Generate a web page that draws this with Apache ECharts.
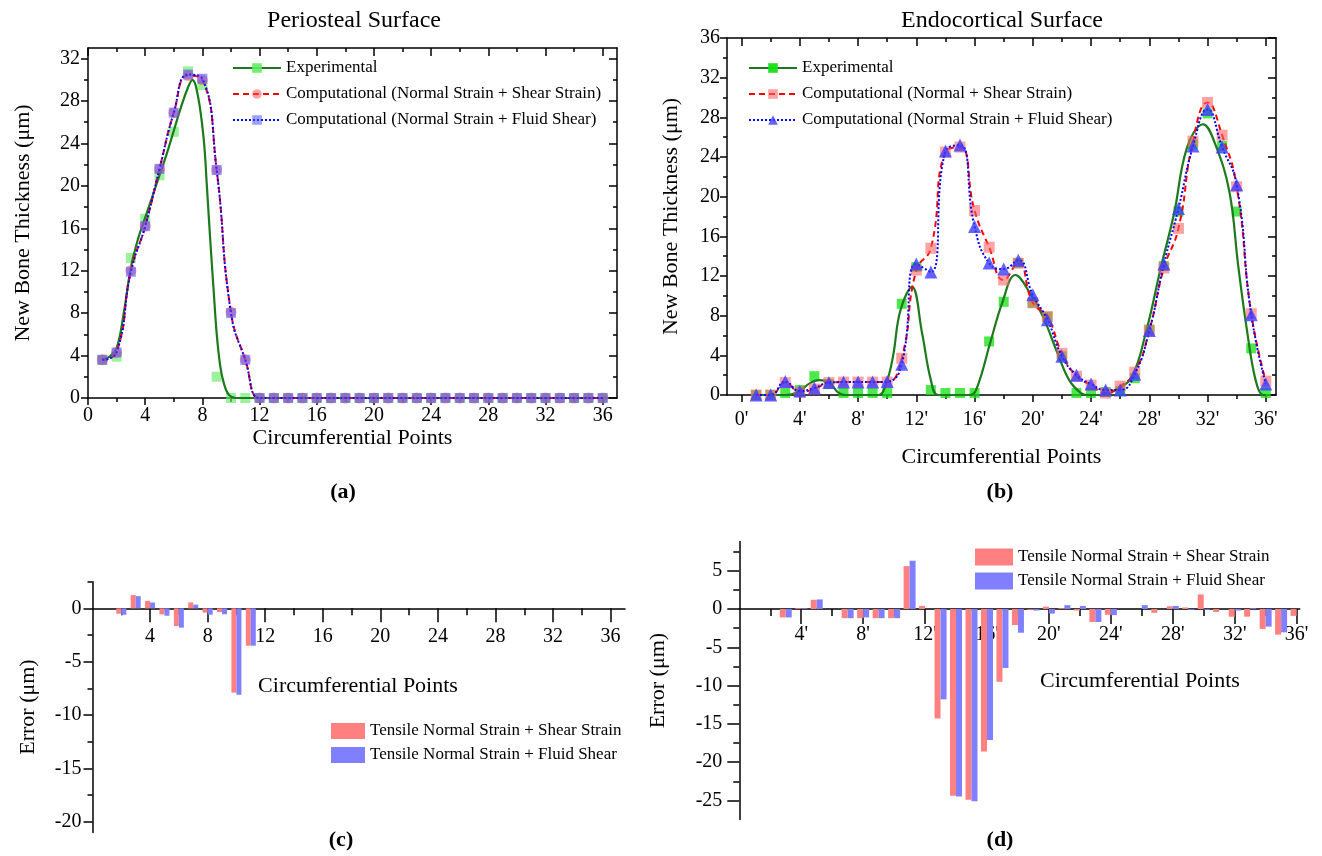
<!DOCTYPE html>
<html><head><meta charset="utf-8">
<script src="https://cdn.jsdelivr.net/npm/echarts@6/dist/echarts.min.js"></script>
<style>html,body{margin:0;padding:0;background:#fff}#c{width:1322px;height:856px}</style>
</head><body><div id="c"></div>
<script>
const FONT = 'Liberation Serif';
// ---------------- data ----------------
const pts = [1,2,3,4,5,6,7,8,9,10,11,12,13,14,15,16,17,18,19,20,21,22,23,24,25,26,27,28,29,30,31,32,33,34,35,36];

// (a) Periosteal surface
const expA   = [3.6,3.9,13.2,16.9,21.0,25.1,30.8,29.5,2.0,0,0,0,0,0,0,0,0,0,0,0,0,0,0,0,0,0,0,0,0,0,0,0,0,0,0,0];
const shearA = [3.6,4.3,12.0,16.2,21.6,26.9,30.4,30.0,21.5,8.1,3.6,0,0,0,0,0,0,0,0,0,0,0,0,0,0,0,0,0,0,0,0,0,0,0,0,0];
const fluidA = [3.6,4.3,11.9,16.2,21.6,26.9,30.5,30.1,21.5,8.0,3.6,0,0,0,0,0,0,0,0,0,0,0,0,0,0,0,0,0,0,0,0,0,0,0,0,0];
const expFitA = [[1,3.6],[1.5,3.9],[2,4.7],[2.5,8.0],[3,12.3],[3.5,15.0],[4,17.0],[4.5,19.0],[5,21.0],[5.5,23.0],[6,25.2],[6.5,27.4],[7,29.3],[7.3,30.0],[7.7,28.4],[8.1,24.3],[8.3,20.3],[8.55,14.9],[8.8,9.9],[9.0,6.1],[9.25,3.0],[9.5,1.4],[9.85,0.3],[10.4,0],[36,0]];

// (b) Endocortical surface
const expB   = [0,0,0.2,0.5,1.9,1.1,0.2,0.2,0.2,0.2,9.2,12.9,0.5,0.2,0.2,0.2,5.4,9.4,13.3,9.3,7.9,3.9,0.2,0.2,0.3,0.4,1.7,6.6,13.0,18.5,25.3,28.4,25.1,18.5,4.7,0.2];
const shearB = [0,0,1.25,0.3,0.6,1.25,1.3,1.3,1.3,1.3,3.7,12.6,14.8,24.5,25.0,18.6,14.9,11.6,13.3,9.3,7.9,4.2,1.9,1.0,0.2,0.9,2.3,6.5,12.8,16.8,25.6,29.5,26.2,21.0,8.2,1.4];
const fluidB = [0,0,1.35,0.4,0.7,1.25,1.3,1.3,1.3,1.35,3.1,13.2,12.4,24.6,25.2,17.0,13.3,12.7,13.6,10.1,7.6,3.9,2.0,1.1,0.5,0.5,2.1,6.5,13.2,18.8,25.1,28.8,25.0,21.2,8.1,1.1];
const expFitB = [[1,0],[3,0],[3.5,0.1],[4,0.4],[4.7,1.2],[5.3,1.5],[5.8,1.4],[6.2,1.0],[6.6,0.3],[7.1,0],[9.4,0],[9.9,1.0],[10.4,3.9],[10.9,8.5],[11.7,10.9],[12.4,6.2],[13.0,1.5],[13.5,0],[15.6,0],[16.1,0.5],[17.1,5.4],[17.9,9.3],[18.8,12.1],[19.8,10.3],[20.7,7.9],[21.7,4.2],[22.5,1.5],[23.3,0.2],[23.8,0],[24.8,0],[25.8,0.6],[26.8,1.8],[27.8,6.5],[28.8,12.9],[29.7,18.3],[30.6,25.0],[31.7,27.3],[32.5,25.4],[33.5,20.5],[34.1,13.1],[34.7,6.6],[35.3,1.5],[35.8,0],[36,0]];

// (c) error, periosteal
const errShearC = [0,-0.5,1.25,0.7,-0.56,-1.66,0.56,-0.4,-0.35,-7.9,-3.5,0,0,0,0,0,0,0,0,0,0,0,0,0,0,0,0,0,0,0,0,0,0,0,0,0];
const errFluidC = [0,-0.6,1.15,0.55,-0.69,-1.81,0.35,-0.6,-0.55,-8.1,-3.5,0,0,0,0,0,0,0,0,0,0,0,0,0,0,0,0,0,0,0,0,0,0,0,0,0];

// (d) error, endocortical
const errShearD = [0,0,-1.1,0.1,1.2,0,-1.2,-1.2,-1.2,-1.2,5.6,0.4,-14.3,-24.4,-24.9,-18.6,-9.5,-2.1,-0.1,0.3,0.1,-0.2,-1.7,-0.75,0,0,-0.5,0.35,0.2,1.9,-0.4,-1.0,-1.0,-2.6,-3.35,-0.9];
const errFluidD = [0,0,-1.1,0.1,1.25,0,-1.2,-1.1,-1.2,-1.2,6.3,0,-11.8,-24.5,-25.1,-17.1,-7.7,-3.1,-0.2,-0.6,0.5,0.4,-1.7,-0.8,0,0.5,0,0.4,-0.1,-0.1,0,-0.2,0.1,-2.3,-3.05,0];

// tick values
const xMajorAB = [0,4,8,12,16,20,24,28,32,36];
const xMinorAB = [2,6,10,14,18,22,26,30,34];
const yMajorA = [0,4,8,12,16,20,24,28,32];
const yMinorA = [2,6,10,14,18,22,26,30];
const yMajorB = [0,4,8,12,16,20,24,28,32,36];
const yMinorB = [2,6,10,14,18,22,26,30,34];
const xMajorCD = [4,8,12,16,20,24,28,32,36];
const xMinorCD = [2,6,10,14,18,22,26,30,34];
const yMajorC = [0,-5,-10,-15,-20];
const yMinorC = [2.5,-2.5,-7.5,-12.5,-17.5];
const yMajorD = [5,0,-5,-10,-15,-20,-25];
const yMinorD = [7.5,2.5,-2.5,-7.5,-12.5,-17.5,-22.5];

const names = {
  A_exp:'Experimental',
  A_shear:'Computational (Normal Strain + Shear Strain)',
  A_fluid:'Computational (Normal Strain + Fluid Shear)',
  B_exp:'Experimental',
  B_shear:'Computational (Normal + Shear Strain)',
  B_fluid:'Computational (Normal Strain + Fluid Shear)',
  C_shear:'Tensile Normal Strain + Shear Strain',
  C_fluid:'Tensile Normal Strain + Fluid Shear',
  D_shear:'Tensile Normal Strain + Shear Strain',
  D_fluid:'Tensile Normal Strain + Fluid Shear'
};
function pairs(arr){ return pts.map((x,i)=>[x, arr[i]]); }

// ---------------- layout ----------------
const G = {
  A:{left:88, top:48, width:529, height:350},
  B:{left:727, top:38, width:549, height:357},
  C:{left:92.5, top:581.7, width:532.5, height:250.7},
  Cz:{left:92.5, top:581.7, width:532.5, height:26.6},
  D:{left:739.3, top:541.6, width:560.4, height:278},
  Dz:{left:739.3, top:541.6, width:560.4, height:67.4}
};
const grid = [G.A, G.A, G.B, G.B, G.C, G.C, G.Cz, G.Cz, G.D, G.D, G.Dz, G.Dz].map(g => Object.assign({containLabel:false}, g));

const LS = {color:'#000', width:1.5};
function ax(g, min, max, o){
  const a = {
    type:'value', gridIndex:g, min:min, max:max, position:o.pos, show:o.show!==false,
    axisLine:{show:o.line!==false, onZero:false, lineStyle:LS},
    axisTick:{show:!!o.ticks, inside:!!o.inside, length:o.len||5, customValues:o.ticks||[], lineStyle:LS},
    axisLabel:{show:!!o.labels, customValues:o.labels||[], color:'#000', fontFamily:FONT, fontSize:20, margin:o.margin||8},
    splitLine:{show:false}, minorTick:{show:false}, silent:true
  };
  if (o.fmt) a.axisLabel.formatter = o.fmt;
  if (o.name){
    a.name = o.name; a.nameLocation='middle'; a.nameGap=o.nameGap;
    a.nameTextStyle = {fontFamily:FONT, fontSize:22, color:'#000'};
  }
  return a;
}
const prime = v => v + "'";

const xAxis = [
  // 0-3: A
  ax(0,0,37,{pos:'bottom', len:7, ticks:xMajorAB, labels:xMajorAB, margin:8, name:'Circumferential Points', nameGap:27}),
  ax(0,0,37,{pos:'top', len:8, inside:true, ticks:xMajorAB}),
  ax(1,0,37,{pos:'bottom', line:false, len:4, ticks:xMinorAB}),
  ax(1,0,37,{pos:'top', line:false, len:4, inside:true, ticks:xMinorAB}),
  // 4-7: B
  ax(2,-1,36.7,{pos:'bottom', len:7, ticks:xMajorAB, labels:xMajorAB, fmt:prime, margin:15, name:'Circumferential Points', nameGap:51}),
  ax(2,-1,36.7,{pos:'top', len:8, inside:true, ticks:xMajorAB}),
  ax(3,-1,36.7,{pos:'bottom', line:false, len:4, ticks:xMinorAB}),
  ax(3,-1,36.7,{pos:'top', line:false, len:4, inside:true, ticks:xMinorAB}),
  // 8-11: C (8 data axis hidden, 10/11 drawn at the zero line)
  ax(4,0,37,{pos:'bottom', show:false}),
  ax(5,0,37,{pos:'bottom', show:false}),
  ax(6,0,37,{pos:'bottom', len:14, ticks:xMajorCD, labels:xMajorCD, margin:18}),
  ax(7,0,37,{pos:'bottom', line:false, len:7, ticks:xMinorCD}),
  // 12-15: D
  ax(8,0,36.2,{pos:'bottom', show:false}),
  ax(9,0,36.2,{pos:'bottom', show:false}),
  ax(10,0,36.2,{pos:'bottom', len:15, ticks:xMajorCD, labels:xMajorCD, fmt:prime, margin:16}),
  ax(11,0,36.2,{pos:'bottom', line:false, len:7, ticks:xMinorCD})
];
const yAxis = [
  // 0-3: A
  ax(0,0,33,{pos:'left', len:7, ticks:yMajorA, labels:yMajorA, margin:8, name:'New Bone Thickness (\u03bcm)', nameGap:54}),
  ax(0,0,33,{pos:'right', len:8, inside:true, ticks:yMajorA}),
  ax(1,0,33,{pos:'left', line:false, len:4, ticks:yMinorA}),
  ax(1,0,33,{pos:'right', line:false, len:4, inside:true, ticks:yMinorA}),
  // 4-7: B
  ax(2,0,36,{pos:'left', len:7, ticks:yMajorB, labels:yMajorB, margin:7, name:'New Bone Thickness (\u03bcm)', nameGap:45}),
  ax(2,0,36,{pos:'right', len:8, inside:true, ticks:yMajorB}),
  ax(3,0,36,{pos:'left', line:false, len:4, ticks:yMinorB}),
  ax(3,0,36,{pos:'right', line:false, len:4, inside:true, ticks:yMinorB}),
  // 8-11: C
  ax(4,-21,2.5,{pos:'left', len:9, ticks:yMajorC, labels:yMajorC, margin:11, name:'Error (\u03bcm)', nameGap:53}),
  ax(5,-21,2.5,{pos:'left', line:false, len:5, ticks:yMinorC}),
  ax(6,0,1,{pos:'left', show:false}),
  ax(7,0,1,{pos:'left', show:false}),
  // 12-15: D
  ax(8,-27.5,8.8,{pos:'left', len:12, ticks:yMajorD, labels:yMajorD, margin:17, name:'Error (\u03bcm)', nameGap:70}),
  ax(9,-27.5,8.8,{pos:'left', line:false, len:6, ticks:yMinorD}),
  ax(10,0,1,{pos:'left', show:false}),
  ax(11,0,1,{pos:'left', show:false})
];

const dashRed = {color:'#ff0000', width:2, type:[6,4]};
const dotBlue = {color:'#0000ff', width:2, type:[2,2]};
const expLine = {color:'#1c7a1c', width:2.2};

const series = [
  // ---- A ----
  {type:'scatter', xAxisIndex:0, yAxisIndex:0, data:pairs(expA), symbol:'rect', symbolSize:10, itemStyle:{color:'rgba(100,235,100,0.8)'}, z:2},
  {type:'line', name:'A_exp', xAxisIndex:0, yAxisIndex:0, data:expFitA, smooth:0.4, symbol:'rect', symbolSize:10, showSymbol:false, lineStyle:expLine, itemStyle:{color:'rgba(100,235,100,0.9)'}, z:3},
  {type:'line', name:'A_shear', xAxisIndex:0, yAxisIndex:0, data:pairs(shearA), smooth:0.5, symbol:'circle', symbolSize:11, lineStyle:dashRed, itemStyle:{color:'rgba(255,90,90,0.55)'}, z:4},
  {type:'line', name:'A_fluid', xAxisIndex:0, yAxisIndex:0, data:pairs(fluidA), smooth:0.5, symbol:'rect', symbolSize:10, lineStyle:dotBlue, itemStyle:{color:'rgba(80,80,255,0.55)'}, z:5},
  // ---- B ----
  {type:'scatter', xAxisIndex:4, yAxisIndex:4, data:pairs(expB), symbol:'rect', symbolSize:10, itemStyle:{color:'rgba(20,225,20,0.95)'}, z:2},
  {type:'line', name:'B_exp', xAxisIndex:4, yAxisIndex:4, data:expFitB, smooth:0.4, symbol:'rect', symbolSize:10, showSymbol:false, lineStyle:expLine, itemStyle:{color:'rgba(20,225,20,0.95)'}, z:3},
  {type:'line', name:'B_shear', xAxisIndex:4, yAxisIndex:4, data:pairs(shearB), smooth:0.5, symbol:'rect', symbolSize:11, lineStyle:dashRed, itemStyle:{color:'rgba(255,100,100,0.6)'}, z:4},
  {type:'line', name:'B_fluid', xAxisIndex:4, yAxisIndex:4, data:pairs(fluidB), smooth:0.5, symbol:'triangle', symbolSize:13, lineStyle:dotBlue, itemStyle:{color:'rgba(60,60,255,0.8)'}, z:5},
  // ---- C ----
  {type:'bar', name:'C_shear', xAxisIndex:8, yAxisIndex:8, data:pairs(errShearC), barWidth:5, barGap:'0%', itemStyle:{color:'#ff8080'}},
  {type:'bar', name:'C_fluid', xAxisIndex:8, yAxisIndex:8, data:pairs(errFluidC), barWidth:5, barGap:'0%', itemStyle:{color:'#8080ff'}},
  // ---- D ----
  {type:'bar', name:'D_shear', xAxisIndex:12, yAxisIndex:12, data:pairs(errShearD), barWidth:6, barGap:'0%', itemStyle:{color:'#ff8080'}},
  {type:'bar', name:'D_fluid', xAxisIndex:12, yAxisIndex:12, data:pairs(errFluidD), barWidth:6, barGap:'0%', itemStyle:{color:'#8080ff'}}
];

const lgText = {fontFamily:FONT, fontSize:17, color:'#000', lineHeight:20};
const fmt = n => names[n];
const legend = [
  {data:['A_exp','A_shear','A_fluid'], orient:'vertical', left:232, top:58, padding:0, itemWidth:48, itemHeight:12, itemGap:6, textStyle:lgText, formatter:fmt, selectedMode:false},
  {data:['B_exp','B_shear','B_fluid'], orient:'vertical', left:748, top:58, padding:0, itemWidth:48, itemHeight:12, itemGap:6, textStyle:lgText, formatter:fmt, selectedMode:false},
  {data:['C_shear','C_fluid'], orient:'vertical', left:331, top:721, padding:0, itemWidth:34, itemHeight:16, itemGap:4, icon:'rect', textStyle:lgText, formatter:fmt, selectedMode:false},
  {data:['D_shear','D_fluid'], orient:'vertical', left:975, top:547, padding:0, itemWidth:38, itemHeight:17, itemGap:4, icon:'rect', textStyle:lgText, formatter:fmt, selectedMode:false}
];

function txt(x, y, s, font){
  return {type:'text', x:x, y:y, silent:true, style:{text:s, font:font, fill:'#000', textAlign:'center', align:'center', textVerticalAlign:'middle', verticalAlign:'middle'}};
}
const graphic = [
  txt(354, 21, 'Periosteal Surface', '24px "Liberation Serif"'),
  txt(1002, 21, 'Endocortical Surface', '24px "Liberation Serif"'),
  txt(343, 492, '(a)', 'bold 22px "Liberation Serif"'),
  txt(1000, 492, '(b)', 'bold 22px "Liberation Serif"'),
  txt(341, 840, '(c)', 'bold 22px "Liberation Serif"'),
  txt(1000, 840, '(d)', 'bold 22px "Liberation Serif"'),
  txt(358, 686, 'Circumferential Points', '22px "Liberation Serif"'),
  txt(1140, 681, 'Circumferential Points', '22px "Liberation Serif"')
];

const chart = echarts.init(document.getElementById('c'), null, {renderer:'canvas'});
chart.setOption({
  animation:false, backgroundColor:'#fff',
  textStyle:{fontFamily:FONT},
  grid:grid, xAxis:xAxis, yAxis:yAxis, series:series, legend:legend, graphic:graphic
});
</script></body></html>
